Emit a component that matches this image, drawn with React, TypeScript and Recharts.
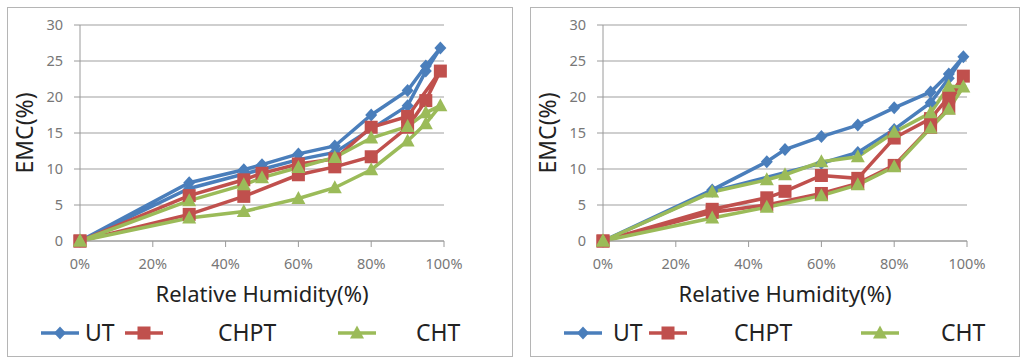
import React from "react";
import { LineChart, Line, XAxis, YAxis, CartesianGrid } from "recharts";

// Sorption loops: adsorption up, then desorption back down (RH %, EMC %)
const utLeftRh = [0, 30, 45, 60, 70, 90, 95, 99, 95, 90, 80, 70, 60, 50, 45, 30, 0];
const utLeftEmc = [0, 7.3, 9.3, 11.3, 12.3, 18.8, 23.6, 26.8, 24.3, 20.9, 17.5, 13.2, 12.1, 10.6, 9.9, 8.1, 0];
const chptLeftRh = [0, 30, 45, 60, 70, 80, 90, 95, 99, 90, 80, 70, 60, 50, 45, 30, 0];
const chptLeftEmc = [0, 3.7, 6.2, 9.2, 10.3, 11.7, 15.8, 19.5, 23.6, 17.3, 15.8, 11.4, 10.7, 9.4, 8.5, 6.3, 0];
const chtLeftRh = [0, 30, 45, 60, 70, 80, 90, 95, 99, 95, 90, 80, 70, 60, 50, 45, 30, 0];
const chtLeftEmc = [0, 3.2, 4.1, 5.9, 7.4, 9.9, 13.9, 16.3, 18.8, 17.8, 15.9, 14.3, 11.6, 10.2, 8.8, 7.8, 5.6, 0];

const utRightRh = [0, 30, 60, 70, 80, 90, 95, 99, 95, 90, 80, 70, 60, 50, 45, 30, 0];
const utRightEmc = [0, 6.9, 10.8, 12.3, 15.5, 19.2, 22.6, 25.6, 23.2, 20.7, 18.5, 16.1, 14.5, 12.7, 11.0, 7.1, 0];
const chptRightRh = [0, 30, 45, 60, 70, 80, 90, 95, 99, 95, 90, 80, 70, 60, 50, 45, 30, 0];
const chptRightEmc = [0, 4.0, 5.0, 6.6, 8.0, 10.5, 15.8, 18.5, 22.9, 20.0, 17.0, 14.3, 8.7, 9.1, 6.9, 6.0, 4.4, 0];
const chtRightRh = [0, 30, 45, 60, 70, 80, 90, 95, 99, 95, 90, 80, 70, 60, 50, 45, 30, 0];
const chtRightEmc = [0, 3.2, 4.7, 6.3, 7.8, 10.3, 15.7, 18.3, 21.4, 21.5, 17.8, 15.1, 11.7, 11.0, 9.2, 8.5, 6.8, 0];

const xTicks = [0, 20, 40, 60, 80, 100];
const yTicks = [0, 5, 10, 15, 20, 25, 30];
const seriesNames = ["UT", "CHPT", "CHT"];

const COLORS = ["#4a7ebb", "#c0504d", "#9bbb59"];
const FONT = "'Noto Sans', 'DejaVu Sans', sans-serif";

const toPoints = (rh: number[], emc: number[]) => rh.map((r, i) => ({ rh: r, emc: emc[i] }));

// marker shapes
const marker = (kind: number, cx: number, cy: number, color: string, key?: any) => {
  if (kind === 0)
    return <path key={key} d={`M${cx},${cy - 6.5}L${cx + 6},${cy}L${cx},${cy + 6.5}L${cx - 6},${cy}Z`} fill={color} />;
  if (kind === 1) return <rect key={key} x={cx - 6.5} y={cy - 6.5} width={13} height={13} fill={color} />;
  return <path key={key} d={`M${cx},${cy - 7.5}L${cx + 7},${cy + 5.5}L${cx - 7},${cy + 5.5}Z`} fill={color} />;
};

const makeDot = (kind: number) => (props: any) => {
  const { cx, cy, index } = props;
  if (cx == null || cy == null) return <g key={`d-${index}`} />;
  return marker(kind, cx, cy, COLORS[kind], `d-${index}`);
};

interface PanelProps {
  left: number;
  width: number;
  series: { rh: number; emc: number }[][];
  legendIcon: number[];
  legendText: number[];
}

const Panel: React.FC<PanelProps> = ({ left, width, series, legendIcon, legendText }) => {
  const plotRight = 437;
  return (
    <div
      style={{
        position: "absolute",
        left,
        top: 7,
        width,
        height: 350,
        border: "1px solid #b5b5b5",
        boxSizing: "border-box",
        background: "#fff",
      }}
    >
      <div style={{ position: "absolute", left: -1, top: -1 }}>
        <LineChart width={width} height={350} margin={{ top: 18, right: width - plotRight, left: 0, bottom: 52 }}>
          <CartesianGrid vertical={false} stroke="#cfcfcf" strokeWidth={2} />
          <XAxis
            type="number"
            dataKey="rh"
            domain={[0, 100]}
            ticks={xTicks}
            tickFormatter={(v) => `${v}%`}
            height={64}
            tickSize={6}
            tickMargin={12}
            stroke="#9a9a9a"
            tick={{ fill: "#777", fontSize: 14.5, fontFamily: FONT }}
            label={{
              value: "Relative Humidity(%)",
              position: "insideBottom",
              offset: 3,
              style: { fontSize: 22, fill: "#222", fontFamily: FONT },
            }}
          />
          <YAxis
            type="number"
            dataKey="emc"
            domain={[0, 30]}
            ticks={yTicks}
            width={73}
            tickSize={6}
            tickMargin={11}
            stroke="#9a9a9a"
            tick={{ fill: "#777", fontSize: 14.5, fontFamily: FONT }}
            label={{
              value: "EMC(%)",
              angle: -90,
              position: "insideLeft",
              offset: 18,
              style: { fontSize: 23, fill: "#222", fontFamily: FONT, textAnchor: "middle" },
            }}
          />
          {series.map((d, i) => (
            <Line
              key={seriesNames[i]}
              data={d}
              dataKey="emc"
              name={seriesNames[i]}
              type="linear"
              stroke={COLORS[i]}
              strokeWidth={3.5}
              dot={makeDot(i)}
              activeDot={false}
              isAnimationActive={false}
            />
          ))}
        </LineChart>
      </div>
      {/* legend */}
      {seriesNames.map((name, i) => (
        <React.Fragment key={name}>
          <svg
            style={{ position: "absolute", left: legendIcon[i], top: 316 }}
            width={38}
            height={18}
          >
            <line x1={0} y1={9} x2={38} y2={9} stroke={COLORS[i]} strokeWidth={3.5} />
            {marker(i, 19, 9, COLORS[i])}
          </svg>
          <div
            style={{
              position: "absolute",
              left: legendText[i],
              top: 309,
              fontSize: 23,
              fontFamily: FONT,
              color: "#222",
              lineHeight: "30px",
            }}
          >
            {name}
          </div>
        </React.Fragment>
      ))}
    </div>
  );
};

const App: React.FC = () => (
  <div style={{ position: "absolute", left: 0, top: 0, width: 1026, height: 359, background: "#fff" }}>
    <Panel
      left={7}
      width={506}
      series={[
        toPoints(utLeftRh, utLeftEmc),
        toPoints(chptLeftRh, chptLeftEmc),
        toPoints(chtLeftRh, chtLeftEmc),
      ]}
      legendIcon={[33, 117, 330]}
      legendText={[77, 210, 408]}
    />
    <Panel
      left={530}
      width={490}
      series={[
        toPoints(utRightRh, utRightEmc),
        toPoints(chptRightRh, chptRightEmc),
        toPoints(chtRightRh, chtRightEmc),
      ]}
      legendIcon={[33, 118, 330]}
      legendText={[82, 203, 410]}
    />
  </div>
);

export default App;
